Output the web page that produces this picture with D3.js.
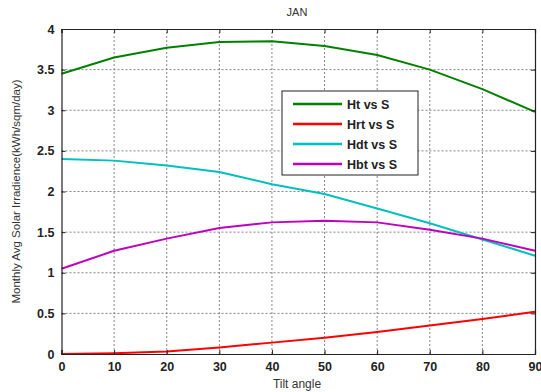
<!DOCTYPE html>
<html>
<head>
<meta charset="UTF-8">
<script src="https://d3js.org/d3.v7.min.js"></script>
<style>
  body { margin: 0; background: #fff; }
  text { font-family: Arial, "Liberation Sans", sans-serif; }
</style>
</head>
<body>
<svg id="chart" width="541" height="392"></svg>
<script>
// tilt angles (deg)
const tilt = [0, 10, 20, 30, 40, 50, 60, 70, 80, 90];
// monthly avg irradiance, kWh/sqm/day
const ht  = [3.45, 3.65, 3.77, 3.84, 3.85, 3.79, 3.68, 3.50, 3.26, 2.98];
const hrt = [0.00, 0.01, 0.03, 0.08, 0.14, 0.20, 0.27, 0.35, 0.43, 0.52];
const hdt = [2.40, 2.38, 2.32, 2.24, 2.09, 1.97, 1.79, 1.61, 1.41, 1.21];
const hbt = [1.05, 1.27, 1.42, 1.55, 1.62, 1.64, 1.62, 1.53, 1.42, 1.27];
const seriesNames = ["Ht vs S", "Hrt vs S", "Hdt vs S", "Hbt vs S"];
const seriesColors = ["#008000", "#ff0000", "#00bfbf", "#bf00bf"];
const xTicks = [0, 10, 20, 30, 40, 50, 60, 70, 80, 90];
const yTicks = [0, 0.5, 1, 1.5, 2, 2.5, 3, 3.5, 4];

const series = [ht, hrt, hdt, hbt];
const margin = { top: 29, right: 6, bottom: 38, left: 61.5 };
const width = 541, height = 392;

const svg = d3.select("#chart");

const x = d3.scaleLinear().domain([0, 90]).range([margin.left, width - margin.right]);
const y = d3.scaleLinear().domain([0, 4]).range([height - margin.bottom, margin.top]);

// grid
const grid = svg.append("g").attr("stroke", "#777").attr("stroke-dasharray", "2,2").attr("stroke-width", 0.9);
grid.selectAll(".gx").data(xTicks.slice(1, -1)).enter().append("line")
  .attr("x1", d => x(d)).attr("x2", d => x(d))
  .attr("y1", y(0)).attr("y2", y(4));
grid.selectAll(".gy").data(yTicks.slice(1, -1)).enter().append("line")
  .attr("x1", x(0)).attr("x2", x(90))
  .attr("y1", d => y(d)).attr("y2", d => y(d));

// lines
const line = d3.line().x((d, i) => x(tilt[i])).y(d => y(d));
svg.append("g").selectAll("path").data(series).enter().append("path")
  .attr("d", line)
  .attr("fill", "none")
  .attr("stroke", (d, i) => seriesColors[i])
  .attr("stroke-width", 2)
  .attr("stroke-linejoin", "round");

// axes (ticks pointing inward, box all round)
const tickFmt = d => d;
svg.append("g").attr("transform", `translate(0,${y(0)})`)
  .call(d3.axisBottom(x).tickValues(xTicks).tickSize(-4).tickPadding(8).tickFormat(tickFmt));
svg.append("g").attr("transform", `translate(0,${y(4)})`)
  .call(d3.axisTop(x).tickValues(xTicks).tickSize(-4).tickFormat(""));
svg.append("g").attr("transform", `translate(${x(0)},0)`)
  .call(d3.axisLeft(y).tickValues(yTicks).tickSize(-4).tickPadding(7).tickFormat(tickFmt));
svg.append("g").attr("transform", `translate(${x(90)},0)`)
  .call(d3.axisRight(y).tickValues(yTicks).tickSize(-4).tickFormat(""));

svg.selectAll(".domain").attr("stroke", "#222").attr("stroke-width", 1.2);
svg.selectAll(".tick line").attr("stroke", "#222");
svg.selectAll(".tick text").attr("font-size", "12.5px").attr("font-weight", "bold").attr("fill", "#222");

// title and axis labels
svg.append("text").attr("x", 297).attr("y", 16).attr("text-anchor", "middle")
  .style("font-size", "11px").attr("fill", "#333").text("JAN");
svg.append("text").attr("x", 297).attr("y", 388).attr("text-anchor", "middle")
  .style("font-size", "12px").attr("fill", "#333").text("Tilt angle");
svg.append("text").attr("transform", `translate(20,${(y(0) + y(4)) / 2}) rotate(-90)`)
  .attr("text-anchor", "middle").style("font-size", "11.5px").attr("fill", "#333")
  .text("Monthly Avg Solar Irradience(kWh/sqm/day)");

// legend
const lg = svg.append("g").attr("transform", "translate(282,91)");
lg.append("rect").attr("width", 136).attr("height", 84)
  .attr("fill", "#fff").attr("stroke", "#222").attr("stroke-width", 1);
seriesNames.forEach((name, i) => {
  const ry = 13 + i * 20;
  lg.append("line").attr("x1", 11).attr("x2", 60).attr("y1", ry).attr("y2", ry)
    .attr("stroke", seriesColors[i]).attr("stroke-width", 2.5);
  lg.append("text").attr("x", 65).attr("y", ry + 4.5)
    .style("font-size", "12.5px").style("font-weight", "bold").attr("fill", "#222").text(name);
});
</script>
</body>
</html>
